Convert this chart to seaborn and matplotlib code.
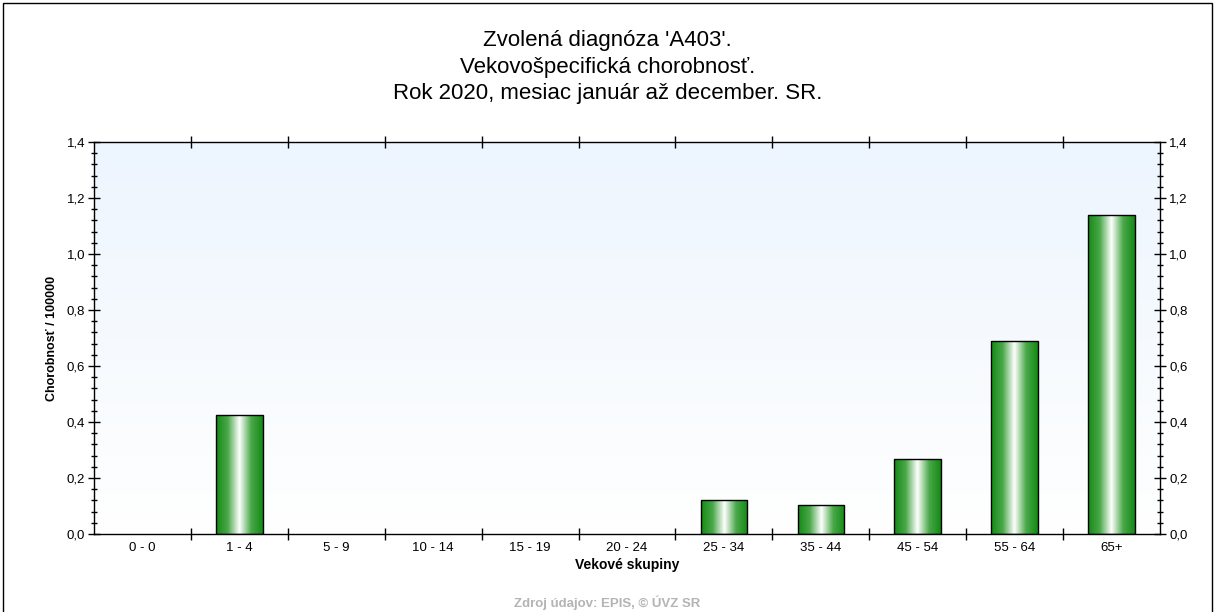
import numpy as np
import pandas as pd
import matplotlib
matplotlib.use('Agg')
import matplotlib.pyplot as plt
import seaborn as sns
from matplotlib.colors import LinearSegmentedColormap
from matplotlib.ticker import MultipleLocator, FuncFormatter

# Data
age_groups = ['0 - 0', '1 - 4', '5 - 9', '10 - 14', '15 - 19', '20 - 24',
              '25 - 34', '35 - 44', '45 - 54', '55 - 64', '65+']
morbidity = [0.0, 0.425, 0.0, 0.0, 0.0, 0.0, 0.121, 0.104, 0.268, 0.689, 1.139]

title = "Zvolená diagnóza 'A403'.\nVekovošpecifická chorobnosť.\nRok 2020, mesiac január až december. SR."

sns.set_style('white')
plt.rcParams['font.family'] = ['Liberation Sans', 'DejaVu Sans']
plt.rcParams['text.color'] = 'black'
plt.rcParams['axes.labelcolor'] = 'black'
plt.rcParams['xtick.color'] = 'black'
plt.rcParams['ytick.color'] = 'black'

df = pd.DataFrame({'group': age_groups, 'value': morbidity})

fig = plt.figure(figsize=(12.15, 6.12), dpi=100)
ax = fig.add_axes([94/1215, 1 - 534/612, (1160 - 94)/1215, (534 - 142)/612])

sns.barplot(data=df, x='group', y='value', ax=ax, width=0.48,
            color='#2a8a2a', edgecolor='black', linewidth=1, zorder=3)

n = len(age_groups)

# background gradient (light blue top -> white bottom)
bg = LinearSegmentedColormap.from_list('bg', ['#ffffff', '#edf5fe'])
ax.imshow(np.linspace(0, 1, 256).reshape(-1, 1), cmap=bg, origin='lower',
          aspect='auto', extent=[-0.5, n - 0.5, 0, 1.4], zorder=0)

# gradient fill for the bars
grad = LinearSegmentedColormap.from_list('bar', ['#138a13', '#4aa84a', '#ffffff', '#4aa84a', '#138a13'])
row = np.linspace(0, 1, 256).reshape(1, -1)
for p in ax.patches:
    h = p.get_height()
    if h <= 0:
        p.set_visible(False)
        continue
    x0 = p.get_x()
    w = p.get_width()
    p.set_facecolor('none')
    im = ax.imshow(row, cmap=grad, aspect='auto', extent=[x0, x0 + w, 0, h], zorder=2)
    im.set_clip_path(p)

ax.set_xlim(-0.5, n - 0.5)
ax.set_ylim(0, 1.4)

# ticks
ax.yaxis.set_major_locator(MultipleLocator(0.2))
ax.yaxis.set_minor_locator(MultipleLocator(0.04))
ax.yaxis.set_major_formatter(FuncFormatter(lambda v, _: f'{v:.1f}'.replace('.', ',')))
ax.tick_params(axis='y', which='major', direction='inout', length=9, width=1,
               left=True, right=True, labelleft=True, labelright=True, labelsize=9.5, pad=2)
ax.tick_params(axis='y', which='minor', direction='inout', length=5, width=1,
               left=True, right=True)

ax.set_xticks(np.arange(n))
ax.set_xticklabels(age_groups)
ax.set_xticks(np.arange(0.5, n - 0.5, 1), minor=True)
ax.tick_params(axis='x', which='major', length=0, labelsize=9.5, pad=6)
ax.tick_params(axis='x', which='minor', direction='inout', length=9, width=1,
               bottom=True, top=True)

for s in ax.spines.values():
    s.set_color('black')
    s.set_linewidth(1)
    s.set_visible(True)

ax.set_xlabel('Vekové skupiny', fontsize=10, fontweight='bold', labelpad=3)
ax.set_ylabel('Chorobnosť / 100000', fontsize=9, fontweight='bold', labelpad=6)

fig.text(0.5, 1 - 67/612, title, ha='center', va='center', fontsize=16, linespacing=1.34)
fig.text(0.5, 1 - 603/612, 'Zdroj údajov: EPIS, © ÚVZ SR', ha='center', va='center',
         fontsize=9.5, fontweight='bold', color='#b4b4b4')

# outer frame
fig.patches.append(plt.Rectangle((3/1215, -0.01), 1209/1215, 1 - 3/612 + 0.01,
                                 transform=fig.transFigure, fill=False,
                                 edgecolor='black', linewidth=1))

fig.savefig('out.png', dpi=100)
